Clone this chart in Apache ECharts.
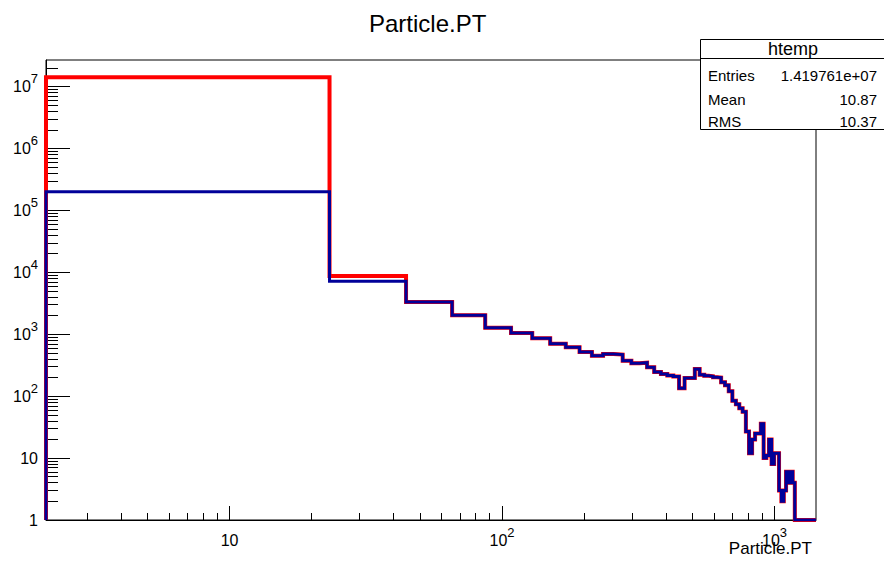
<!DOCTYPE html>
<html>
<head>
<meta charset="utf-8">
<title>Particle.PT</title>
<script src="https://cdn.jsdelivr.net/npm/echarts@6/dist/echarts.min.js"></script>
<style>
  html, body { margin: 0; padding: 0; background: #fff; }
  #chart { width: 884px; height: 562px; }
</style>
</head>
<body>
<div id="chart"></div>
<script>
// Particle.PT histogram: equal-width bins drawn on a log-log frame.
const binStart = 2.12;     // low edge of the first bin
const binWidth = 21.15;    // width of every bin

// Bin contents, all particles (red outline)
const allCounts = [
  14170000, 8700, 3325, 2030, 1280, 1050, 860, 700, 617, 518,
  451, 481, 469, 375, 340, 348, 293, 246, 228, 215,
  208, 134, 197, 197, 275, 222, 214, 210, 203, 200,
  168, 150, 120, 84, 74, 64, 56, 27, 12, 20,
  25, 25, 36, 10, 11, 20, 8, 12, 12, 3,
  2, 3, 6, 4, 6, 4, 0, 0, 0, 0,
  0, 0, 0, 0, 0, 0, 0
];

// Bin contents, selected particles (blue outline)
const selCounts = [
  200000, 7200, 3325, 2030, 1280, 1050, 860, 700, 617, 518,
  451, 481, 469, 375, 340, 348, 293, 246, 228, 215,
  208, 134, 197, 197, 275, 222, 214, 210, 203, 200,
  168, 150, 120, 84, 74, 64, 56, 27, 12, 20,
  25, 25, 36, 10, 11, 20, 8, 12, 12, 3,
  2, 3, 6, 4, 6, 4, 0, 0, 0, 0,
  0, 0, 0, 0, 0, 0, 0
];

// Axis ranges and tick marks
const yMin = 1;
const yMax = Math.pow(10, 7.43);
const xMin = binStart;
const xMax = binStart + allCounts.length * binWidth;
const xTickMajor = [10, 100, 1000];
const xTickMinor = [3, 4, 5, 6, 7, 8, 9, 20, 30, 40, 50, 60, 70, 80, 90,
                    200, 300, 400, 500, 600, 700, 800, 900];
const yTickMajor = [1, 10, 100, 1e3, 1e4, 1e5, 1e6, 1e7];
const yTickMinor = [];
for (let d = 1; d <= 1e7; d *= 10) {
  for (let m = 2; m <= 9; m++) {
    if (m * d < yMax) yTickMinor.push(m * d);
  }
}

// Statistics box
const statTitle = 'htemp';
const statNames = ['Entries', 'Mean', 'RMS'];
const statValues = ['1.419761e+07', '10.87', '10.37'];

const FONT = '"Liberation Sans", Arial, Helvetica, sans-serif';

// Outline of a histogram: rises from the floor, steps across each bin, drops back.
function stepPath(counts) {
  const pts = [[binStart, yMin]];
  counts.forEach(function (c, i) {
    const lo = binStart + i * binWidth;
    const hi = lo + binWidth;
    const v = c >= yMin ? c : yMin;   // empty bins sit on the floor of the log frame
    pts.push([lo, v], [hi, v]);
  });
  pts.push([binStart + counts.length * binWidth, yMin]);
  return pts;
}

// "1", "10", then 10 with a raised exponent
function powLabel(v) {
  const e = Math.round(Math.log10(v));
  if (e === 0) return '{b|1}';
  if (e === 1) return '{b|10}';
  return '{b|10}{s|' + e + '}';
}

const labelRich = {
  b: { fontSize: 16, lineHeight: 29, fontFamily: FONT, color: '#000' },
  s: { fontSize: 13, verticalAlign: 'top', fontFamily: FONT, color: '#000' }
};

function majorAxis(min, max, ticks, tickLen, margin, extra) {
  return Object.assign({
    type: 'log',
    logBase: 10,
    min: min,
    max: max,
    axisLine: { show: true, lineStyle: { color: '#000', width: 1 } },
    axisTick: { show: true, inside: true, length: tickLen, customValues: ticks,
                lineStyle: { color: '#000', width: 1 } },
    axisLabel: { show: true, customValues: ticks, formatter: powLabel, rich: labelRich,
                 margin: margin, color: '#000', fontFamily: FONT, fontSize: 16 },
    splitLine: { show: false },
    minorTick: { show: false },
    minorSplitLine: { show: false }
  }, extra || {});
}

function minorAxis(min, max, ticks, tickLen, extra) {
  return Object.assign({
    type: 'log',
    logBase: 10,
    min: min,
    max: max,
    axisLine: { show: false },
    axisTick: { show: true, inside: true, length: tickLen, customValues: ticks,
                lineStyle: { color: '#000', width: 1 } },
    axisLabel: { show: false },
    splitLine: { show: false },
    minorTick: { show: false }
  }, extra || {});
}

const chart = echarts.init(document.getElementById('chart'), null, { renderer: 'svg' });

const statRows = [];
statNames.forEach(function (name, i) {
  const y = [75.5, 99.3, 121.8][i];
  statRows.push({
    type: 'text', x: 708, y: y, z: 102,
    style: { text: name, fontSize: 15, fontFamily: FONT, fill: '#000',
             align: 'left', verticalAlign: 'middle' }
  });
  statRows.push({
    type: 'text', x: 877, y: y, z: 102,
    style: { text: statValues[i], fontSize: 15, fontFamily: FONT, fill: '#000',
             align: 'right', verticalAlign: 'middle' }
  });
});

chart.setOption({
  animation: false,
  backgroundColor: '#fff',
  title: {
    text: 'Particle.PT',
    left: 364,
    top: 6,
    textStyle: { fontSize: 24, fontWeight: 'normal', color: '#000', fontFamily: FONT }
  },
  grid: {
    left: 46, right: 68, top: 60, bottom: 42,
    show: true, borderColor: '#000', borderWidth: 1, backgroundColor: 'transparent'
  },
  xAxis: [
    majorAxis(xMin, xMax, xTickMajor, 14, 6, { position: 'bottom' }),
    minorAxis(xMin, xMax, xTickMinor, 7, { position: 'bottom' })
  ],
  yAxis: [
    majorAxis(yMin, yMax, yTickMajor, 24, 8, { position: 'left' }),
    minorAxis(yMin, yMax, yTickMinor, 12, { position: 'left' })
  ],
  series: [
    {
      name: 'all',
      type: 'line',
      xAxisIndex: 0, yAxisIndex: 0,
      data: stepPath(allCounts),
      showSymbol: false, symbol: 'none', silent: true,
      lineStyle: { color: '#ff0000', width: 4, join: 'miter', cap: 'butt' },
      z: 3
    },
    {
      name: 'selected',
      type: 'line',
      xAxisIndex: 0, yAxisIndex: 0,
      data: stepPath(selCounts),
      showSymbol: false, symbol: 'none', silent: true,
      lineStyle: { color: '#000099', width: 3, join: 'miter', cap: 'butt' },
      z: 4
    }
  ],
  graphic: [
    {
      type: 'text', right: 72, top: 540, z: 50,
      style: { text: 'Particle.PT', fontSize: 17, fontFamily: FONT, fill: '#000' }
    },
    {
      type: 'rect', z: 100,
      shape: { x: 700.5, y: 39.5, width: 190, height: 90 },
      style: { fill: '#fff', stroke: '#000', lineWidth: 1 }
    },
    {
      type: 'line', z: 101,
      shape: { x1: 700.5, y1: 58.5, x2: 884, y2: 58.5 },
      style: { stroke: '#000', lineWidth: 1 }
    },
    {
      type: 'text', x: 793, y: 49, z: 102,
      style: { text: statTitle, fontSize: 18, fontFamily: FONT, fill: '#000',
               align: 'center', verticalAlign: 'middle' }
    }
  ].concat(statRows)
});
</script>
</body>
</html>
